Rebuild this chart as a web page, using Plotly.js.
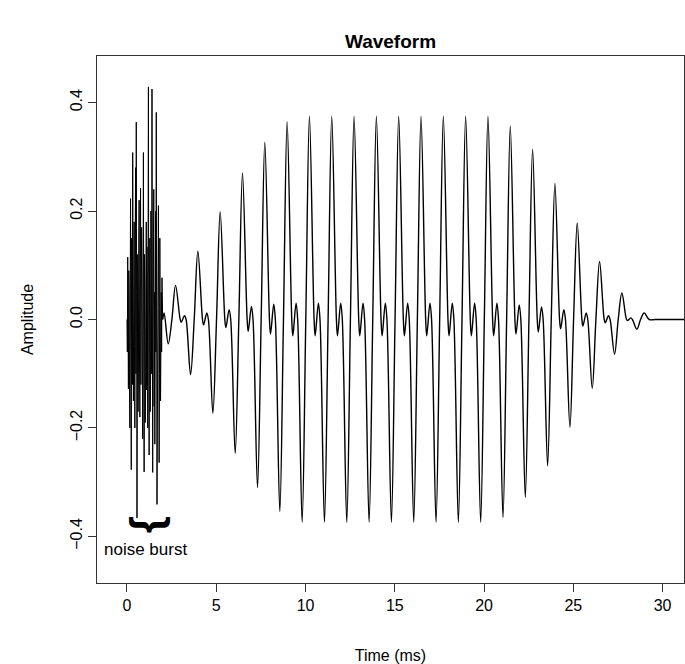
<!DOCTYPE html>
<html>
<head>
<meta charset="utf-8">
<script src="https://cdn.plot.ly/plotly-3.0.1.min.js"></script>
<style>html,body{margin:0;padding:0;background:#fff;}#chart{width:685px;height:664px;}</style>
</head>
<body>
<div id="chart"></div>
<script>
// Noise burst segment (time in ms, amplitude)
var noiseTime = [0.00,0.02,0.04,0.06,0.08,0.10,0.12,0.14,0.16,0.18,0.20,0.22,0.24,0.26,0.28,0.30,0.32,0.34,0.36,0.38,
  0.40,0.42,0.44,0.46,0.48,0.50,0.52,0.54,0.56,0.58,0.60,0.62,0.64,0.66,0.68,0.70,0.72,0.74,0.76,0.78,
  0.80,0.82,0.84,0.86,0.88,0.90,0.92,0.94,0.96,0.98,1.00,1.02,1.04,1.06,1.08,1.10,1.12,1.14,1.16,1.18,
  1.20,1.22,1.24,1.26,1.28,1.30,1.32,1.34,1.36,1.38,1.40,1.42,1.44,1.46,1.48,1.50,1.52,1.54,1.56,1.58,
  1.60,1.62,1.64,1.66,1.68,1.70,1.72,1.74,1.76,1.78,1.80,1.82,1.84,1.86,1.88,1.90,1.92,1.94,1.96,1.98,2.00];
var noiseAmp = [0.000,-0.060,0.115,0.020,-0.128,0.090,0.050,-0.110,-0.200,0.060,0.223,-0.090,-0.277,0.150,0.100,-0.120,0.308,0.030,-0.150,0.080,
  0.180,-0.050,-0.200,0.120,0.280,-0.100,0.364,0.050,-0.366,-0.040,0.120,-0.170,-0.100,0.150,0.220,-0.060,-0.180,0.100,0.242,-0.120,
  -0.050,0.170,0.100,-0.080,-0.220,0.040,0.308,-0.030,-0.281,0.120,0.050,-0.190,-0.150,0.060,0.180,-0.130,0.134,0.030,-0.200,0.110,
  0.429,-0.040,-0.250,0.070,0.150,-0.170,-0.120,0.200,0.060,-0.100,0.425,0.020,-0.282,-0.020,0.100,0.240,-0.160,0.050,-0.230,-0.080,
  0.200,-0.060,0.382,0.040,-0.341,-0.120,0.080,-0.060,0.210,0.020,-0.264,-0.100,0.150,0.040,-0.150,-0.050,0.050,-0.060,0.077,0.030,0.000];

// Periodic tone segment: peak, zero, dip, bump, zero, trough, zero per cycle
var toneTime = [
  2.00, 2.08, 2.31, 2.515,
  2.72, 2.98, 3.04, 3.22, 3.31, 3.56, 3.765,
  3.97, 4.23, 4.29, 4.47, 4.56, 4.81, 5.015,
  5.22, 5.48, 5.54, 5.72, 5.81, 6.06, 6.265,
  6.47, 6.73, 6.79, 6.97, 7.06, 7.31, 7.515,
  7.72, 7.98, 8.04, 8.22, 8.31, 8.56, 8.765,
  8.97, 9.23, 9.29, 9.47, 9.56, 9.81, 10.015,
  10.22, 10.48, 10.54, 10.72, 10.81, 11.06, 11.265,
  11.47, 11.73, 11.79, 11.97, 12.06, 12.31, 12.515,
  12.72, 12.98, 13.04, 13.22, 13.31, 13.56, 13.765,
  13.97, 14.23, 14.29, 14.47, 14.56, 14.81, 15.015,
  15.22, 15.48, 15.54, 15.72, 15.81, 16.06, 16.265,
  16.47, 16.73, 16.79, 16.97, 17.06, 17.31, 17.515,
  17.72, 17.98, 18.04, 18.22, 18.31, 18.56, 18.765,
  18.97, 19.23, 19.29, 19.47, 19.56, 19.81, 20.015,
  20.22, 20.48, 20.54, 20.72, 20.81, 21.06, 21.265,
  21.47, 21.73, 21.79, 21.97, 22.06, 22.31, 22.515,
  22.72, 22.98, 23.04, 23.22, 23.31, 23.56, 23.765,
  23.97, 24.23, 24.29, 24.47, 24.56, 24.81, 25.015,
  25.22, 25.48, 25.54, 25.72, 25.81, 26.06, 26.265,
  26.47, 26.73, 26.79, 26.97, 27.06, 27.31, 27.515,
  27.72, 27.98, 28.04, 28.22, 28.31, 28.56, 28.765,
  28.97, 29.25, 29.60, 31.50
];
var toneAmp = [
  0.000, 0.012, -0.045, 0.000,
  0.063, 0, -0.005, 0.007, 0, -0.102, 0,
  0.126, 0, -0.010, 0.012, 0, -0.173, 0,
  0.199, 0, -0.015, 0.018, 0, -0.247, 0,
  0.270, 0, -0.022, 0.024, 0, -0.310, 0,
  0.327, 0, -0.027, 0.028, 0, -0.354, 0,
  0.365, 0, -0.030, 0.030, 0, -0.374, 0,
  0.375, 0, -0.030, 0.030, 0, -0.374, 0,
  0.375, 0, -0.030, 0.030, 0, -0.374, 0,
  0.375, 0, -0.030, 0.030, 0, -0.374, 0,
  0.375, 0, -0.030, 0.030, 0, -0.374, 0,
  0.375, 0, -0.030, 0.030, 0, -0.374, 0,
  0.375, 0, -0.030, 0.030, 0, -0.374, 0,
  0.375, 0, -0.030, 0.030, 0, -0.374, 0,
  0.375, 0, -0.030, 0.030, 0, -0.374, 0,
  0.375, 0, -0.030, 0.030, 0, -0.365, 0,
  0.357, 0, -0.027, 0.027, 0, -0.328, 0,
  0.314, 0, -0.023, 0.023, 0, -0.270, 0,
  0.251, 0, -0.017, 0.018, 0, -0.199, 0,
  0.178, 0, -0.012, 0.012, 0, -0.127, 0,
  0.107, 0, -0.006, 0.007, 0, -0.064, 0,
  0.049, 0, -0.002, 0.003, 0, -0.018, 0,
  0.012, 0, 0, 0
];

var xTicks = [0, 5, 10, 15, 20, 25, 30];
var yTicks = [-0.4, -0.2, 0.0, 0.2, 0.4];

var FONT = '"Liberation Sans", Arial, Helvetica, sans-serif';

var traces = [
  {x: noiseTime, y: noiseAmp, type: 'scatter', mode: 'lines',
   line: {color: '#000', width: 1}, hoverinfo: 'skip', showlegend: false},
  {x: toneTime, y: toneAmp, type: 'scatter', mode: 'lines',
   line: {color: '#000', width: 1.4, shape: 'spline', smoothing: 1}, hoverinfo: 'skip', showlegend: false}
];

var layout = {
  width: 685, height: 664,
  margin: {l: 97, r: 1, t: 56, b: 81, pad: 0},
  paper_bgcolor: '#fff', plot_bgcolor: '#fff',
  font: {family: FONT, size: 16, color: '#000'},
  title: {text: '<b>Waveform</b>', font: {family: FONT, size: 19, color: '#000'},
          x: 0.5, xref: 'paper', xanchor: 'center', y: 1 - 41/664, yref: 'container', yanchor: 'middle'},
  xaxis: {
    range: [-1.68, 31.2], tickvals: xTicks, ticks: 'outside', ticklen: 8, tickwidth: 1,
    tickcolor: '#333', showline: true, mirror: true, linecolor: '#333', linewidth: 1,
    showgrid: false, zeroline: false, tickfont: {size: 16},
    title: {text: 'Time (ms)', font: {size: 16}, standoff: 37}
  },
  yaxis: {
    range: [-0.486, 0.486], tickvals: yTicks, tickformat: '.1f', ticks: 'outside', ticklen: 8, tickwidth: 1,
    tickcolor: '#333', showline: true, mirror: true, linecolor: '#333', linewidth: 1,
    showgrid: false, zeroline: false, tickangle: -90, tickfont: {size: 16},
    title: {text: 'Amplitude', font: {size: 16}, standoff: 29}
  },
  annotations: [
    {x: 1.06, y: -0.378, xref: 'x', yref: 'y', text: '<b>{</b>', textangle: -90, showarrow: false,
     font: {family: FONT, size: 44, color: '#000'}, xanchor: 'center', yanchor: 'middle'},
    {x: 1.06, y: -0.424, xref: 'x', yref: 'y', text: 'noise burst', showarrow: false,
     font: {family: FONT, size: 17, color: '#000'}, xanchor: 'center', yanchor: 'middle'}
  ]
};

Plotly.newPlot('chart', traces, layout, {displayModeBar: false, staticPlot: true});
</script>
</body>
</html>
